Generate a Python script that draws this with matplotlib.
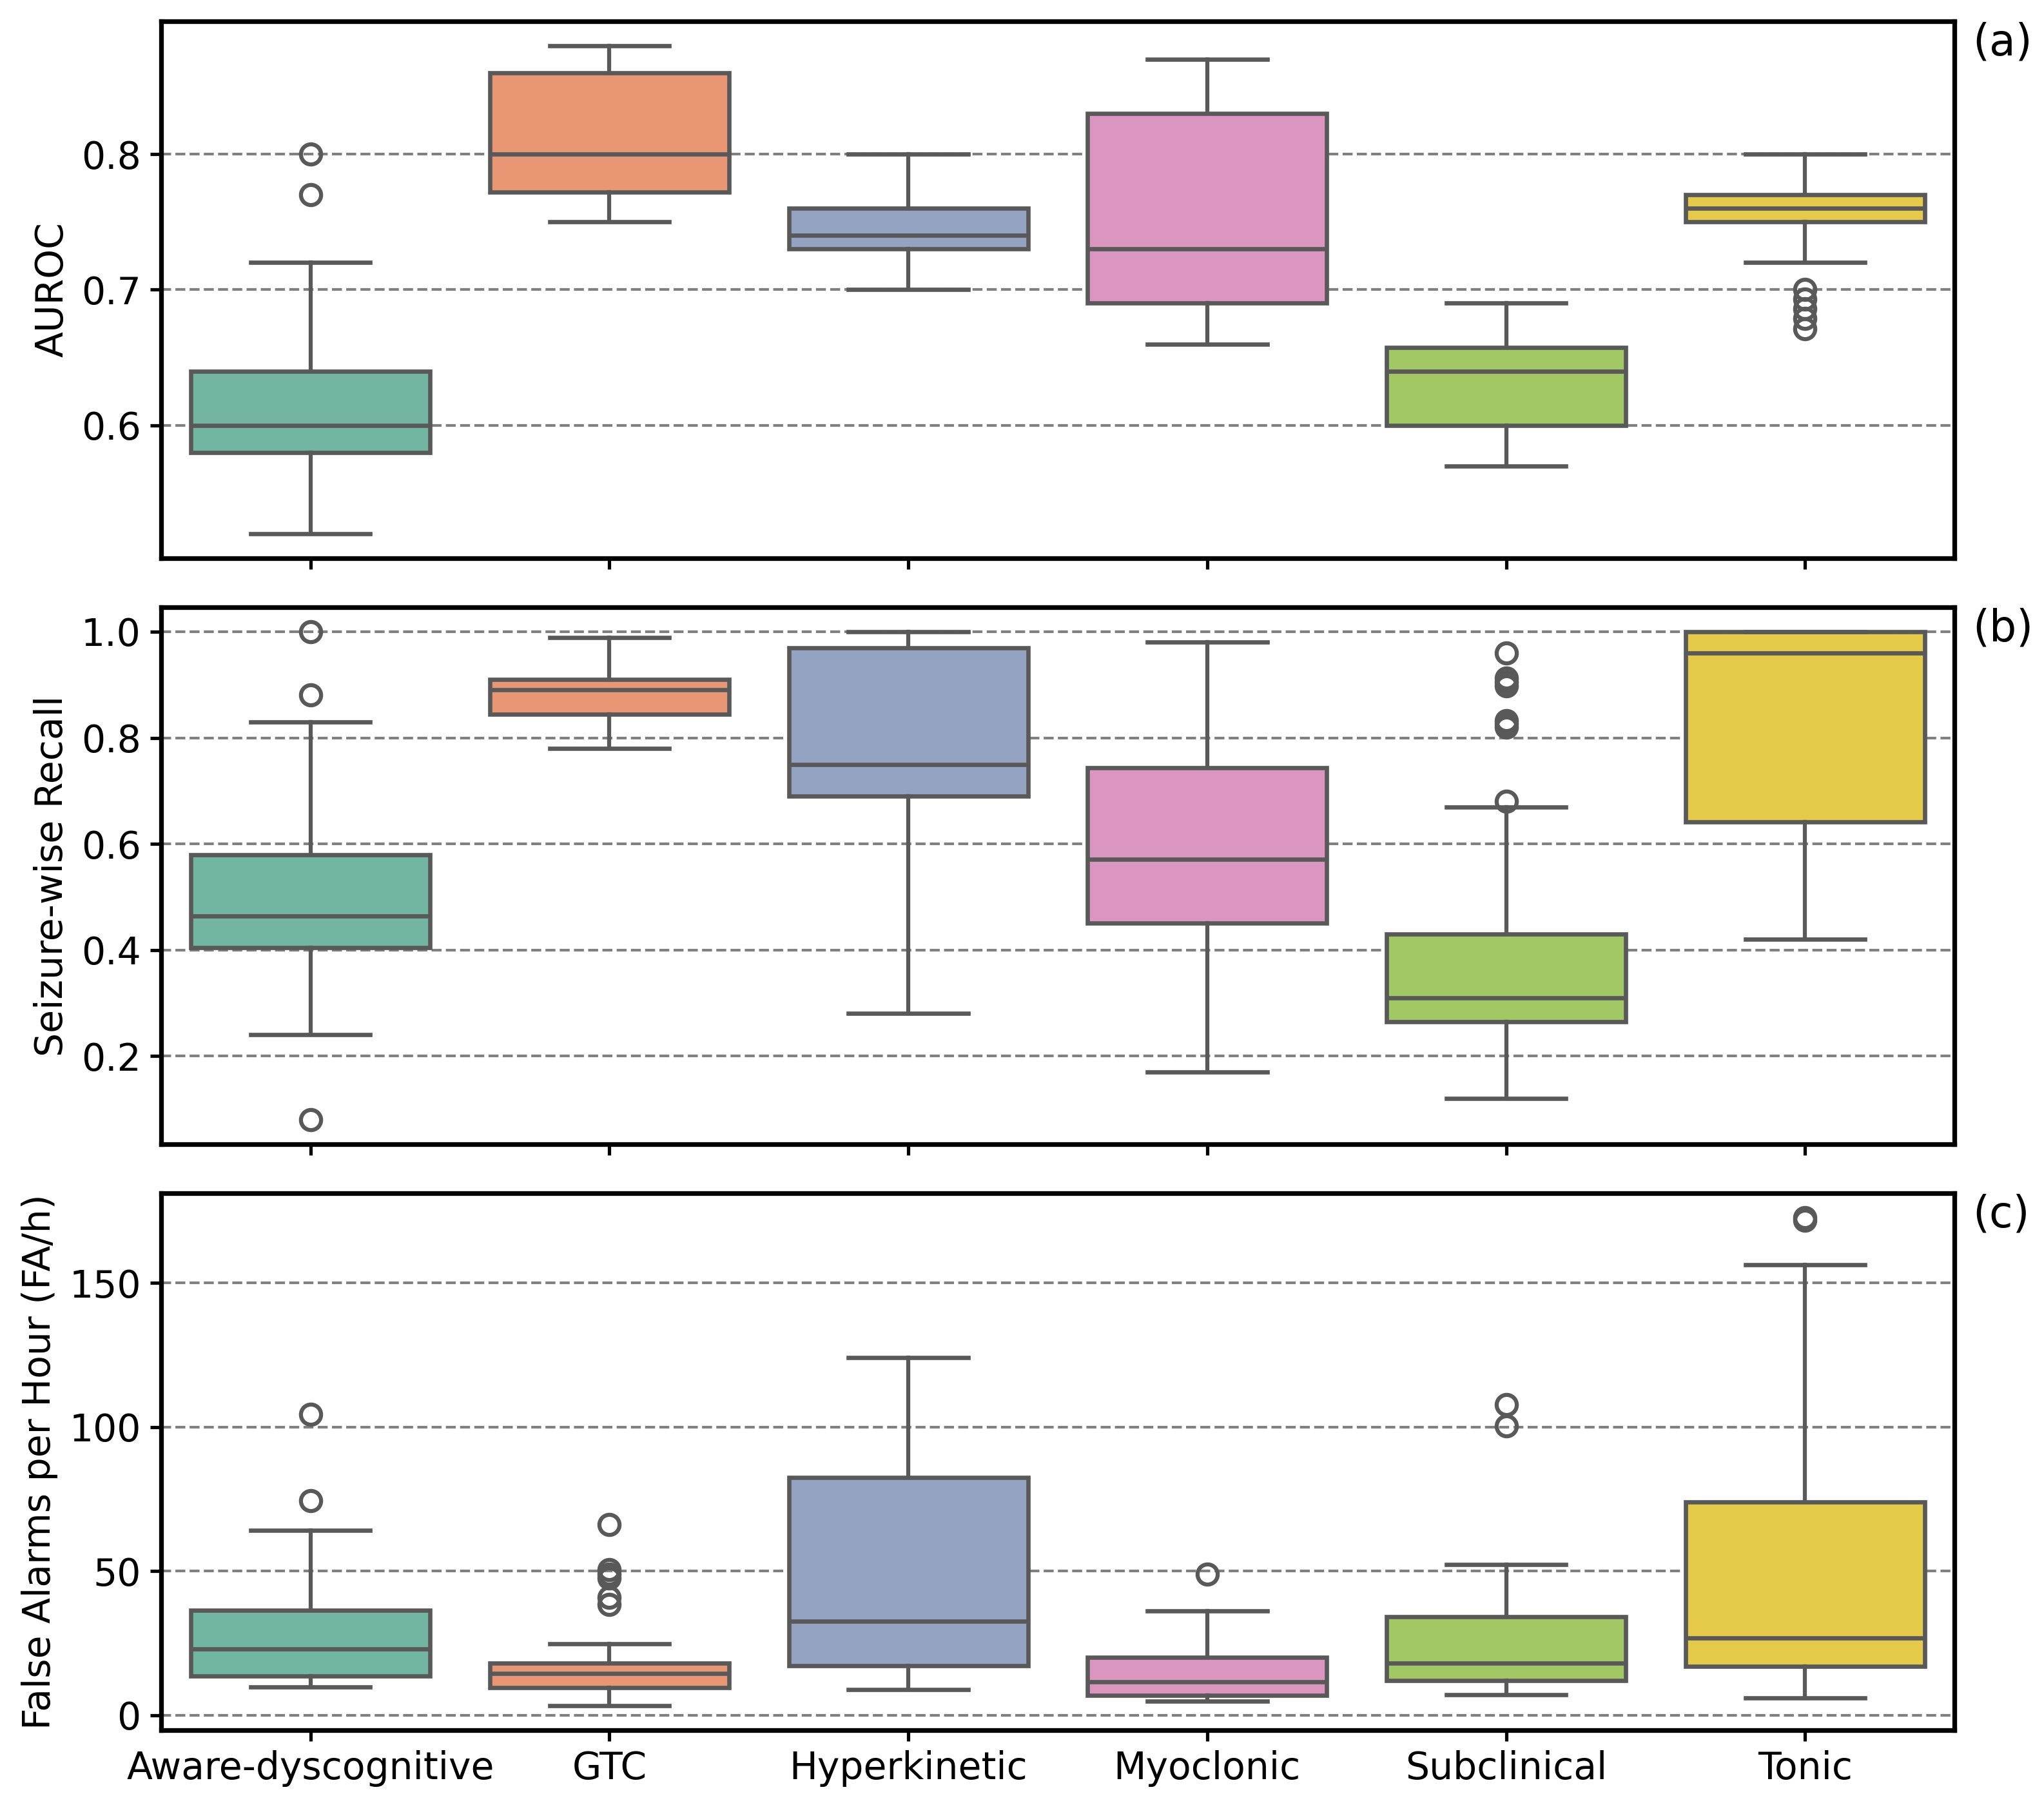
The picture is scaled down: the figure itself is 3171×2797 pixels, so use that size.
import colorsys
import numpy as np
import matplotlib
matplotlib.use("Agg")
import matplotlib.pyplot as plt
from matplotlib.colors import to_rgb

categories = ["Aware-dyscognitive", "GTC", "Hyperkinetic", "Myoclonic", "Subclinical", "Tonic"]

# AUROC box stats
auroc_whislo = [0.52, 0.75, 0.70, 0.66, 0.57, 0.72]
auroc_q1 = [0.58, 0.772, 0.73, 0.69, 0.60, 0.75]
auroc_med = [0.60, 0.80, 0.74, 0.73, 0.64, 0.76]
auroc_q3 = [0.64, 0.86, 0.76, 0.83, 0.6575, 0.77]
auroc_whishi = [0.72, 0.88, 0.80, 0.87, 0.69, 0.80]
auroc_fliers = [[0.80, 0.77], [], [], [], [], [0.70, 0.693, 0.686, 0.679, 0.671]]

# Seizure-wise recall
recall_whislo = [0.24, 0.78, 0.28, 0.17, 0.12, 0.42]
recall_q1 = [0.404, 0.844, 0.69, 0.451, 0.265, 0.642]
recall_med = [0.464, 0.891, 0.75, 0.571, 0.31, 0.96]
recall_q3 = [0.58, 0.91, 0.969, 0.744, 0.43, 1.0]
recall_whishi = [0.83, 0.989, 1.0, 0.98, 0.67, 1.0]
recall_fliers = [[1.0, 0.881, 0.08], [], [], [],
                 [0.96, 0.912, 0.905, 0.898, 0.832, 0.826, 0.82, 0.68], []]

# False alarms per hour
fa_whislo = [9.9, 3.3, 8.9, 5.0, 7.2, 6.0]
fa_q1 = [13.6, 9.7, 17.3, 7.0, 12.0, 17.0]
fa_med = [22.9, 14.4, 32.7, 11.7, 18.0, 26.9]
fa_q3 = [36.5, 18.0, 82.4, 20.0, 34.2, 73.9]
fa_whishi = [64.2, 24.9, 124.1, 36.2, 52.3, 156.2]
fa_fliers = [[104.5, 74.4], [66.2, 50.5, 49.0, 47.5, 41.0, 38.5], [], [49.0],
             [107.8, 100.4], [172.6, 171.8]]

set2 = ["#66c2a5", "#fc8d62", "#8da0cb", "#e78ac3", "#a6d854", "#ffd92f"]


def desat(c, prop=0.75):
    h, l, s = colorsys.rgb_to_hls(*to_rgb(c))
    return colorsys.hls_to_rgb(h, l, s * prop)


colors = [desat(c) for c in set2]
line = "#595959"

plt.rcParams["font.size"] = 14
plt.rcParams["xtick.major.width"] = 1.25
plt.rcParams["ytick.major.width"] = 1.25
plt.rcParams["xtick.major.size"] = 4
plt.rcParams["ytick.major.size"] = 4

fig, axes = plt.subplots(3, 1, figsize=(3171 / 300, 2797 / 300), sharex=True)
fig.subplots_adjust(left=0.0788, right=0.9562, top=0.9882, bottom=0.0404, hspace=0.0914)

panels = [
    (auroc_whislo, auroc_q1, auroc_med, auroc_q3, auroc_whishi, auroc_fliers, "AUROC", "(a)"),
    (recall_whislo, recall_q1, recall_med, recall_q3, recall_whishi, recall_fliers,
     "Seizure-wise Recall", "(b)"),
    (fa_whislo, fa_q1, fa_med, fa_q3, fa_whishi, fa_fliers, "False Alarms per Hour (FA/h)", "(c)"),
]

for ax, (lo, q1, med, q3, hi, fl, ylabel, tag) in zip(axes, panels):
    stats = []
    for i in range(len(categories)):
        stats.append(dict(whislo=lo[i], q1=q1[i], med=med[i], q3=q3[i], whishi=hi[i],
                          fliers=np.array(fl[i]), label=categories[i]))
    bp = ax.bxp(stats, positions=range(len(categories)), widths=0.8, capwidths=0.4,
                patch_artist=True,
                boxprops=dict(edgecolor=line, linewidth=1.6),
                medianprops=dict(color=line, linewidth=1.6),
                whiskerprops=dict(color=line, linewidth=1.5),
                capprops=dict(color=line, linewidth=1.6),
                flierprops=dict(marker="o", markerfacecolor="none", markeredgecolor=line,
                                markersize=7.5, markeredgewidth=1.5))
    for patch, c in zip(bp["boxes"], colors):
        patch.set_facecolor(c)
    ax.set_xlim(-0.5, len(categories) - 0.5)
    ax.yaxis.grid(True, linestyle="--", color="gray", linewidth=1)
    ax.set_axisbelow(True)
    ax.set_ylabel(ylabel)
    for s in ax.spines.values():
        s.set_linewidth(1.75)
    ax.text(1.01, 0.96, tag, transform=ax.transAxes, ha="left", va="center", fontsize=16)

axes[0].set_yticks([0.6, 0.7, 0.8])
axes[1].set_yticks([0.2, 0.4, 0.6, 0.8, 1.0])
axes[2].set_yticks([0, 50, 100, 150])
axes[2].set_xticks(range(len(categories)))
axes[2].set_xticklabels(categories)

fig.savefig("out.png", dpi=300)
